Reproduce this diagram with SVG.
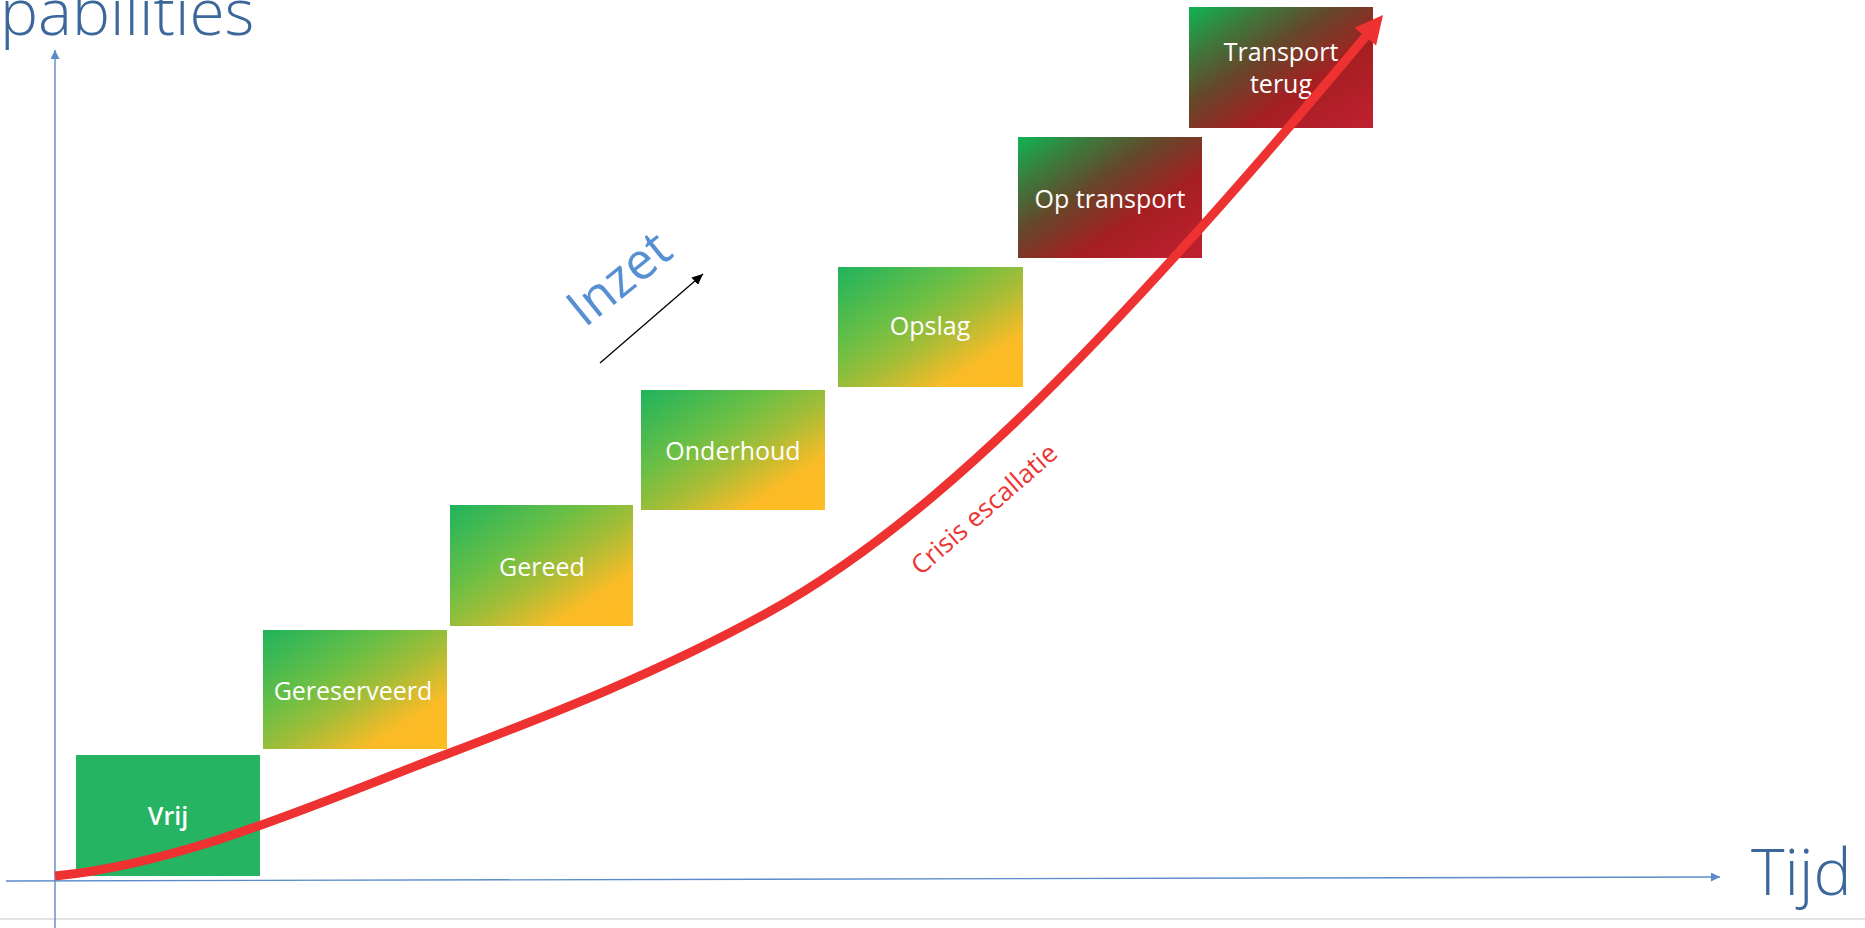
<svg xmlns="http://www.w3.org/2000/svg" width="1865" height="928" viewBox="0 0 1865 928">
<style>
.lbl{font-family:"Open Sans","Noto Sans","Liberation Sans",sans-serif;font-size:25px;fill:#FFFFFF;text-anchor:middle;font-weight:400}
.big{font-family:"Open Sans","Noto Sans","Liberation Sans",sans-serif;font-size:64px;fill:#3B679A;font-weight:300}
.axis{stroke:#5B8BC9;stroke-width:1.4;fill:none}
</style>
<defs>
<linearGradient id="gy" x1="0" y1="0" x2="1" y2="1">
<stop offset="0" stop-color="#1FB35D"/>
<stop offset="0.35" stop-color="#6ABF45"/>
<stop offset="0.55" stop-color="#A5BD37"/>
<stop offset="0.78" stop-color="#FBBB27"/>
<stop offset="1" stop-color="#FFBD22"/>
</linearGradient>
<linearGradient id="gr" x1="0" y1="0" x2="1" y2="1">
<stop offset="0" stop-color="#0FB454"/>
<stop offset="0.2" stop-color="#3C7A3C"/>
<stop offset="0.4" stop-color="#65472A"/>
<stop offset="0.65" stop-color="#A51F22"/>
<stop offset="1" stop-color="#C12030"/>
</linearGradient>
<marker id="ab" markerWidth="9" markerHeight="9" refX="9" refY="4.5" orient="auto" markerUnits="userSpaceOnUse">
<path d="M0,0 L9,4.5 L0,9 Z" fill="#5B8BC9"/>
</marker>
<marker id="ak" markerWidth="11" markerHeight="10" refX="11" refY="5" orient="auto" markerUnits="userSpaceOnUse">
<path d="M0,0 L11,5 L0,10 Z" fill="#000000"/>
</marker>
</defs>
<rect x="0" y="0" width="1865" height="928" fill="#FFFFFF"/>
<line x1="0" y1="919" x2="1865" y2="919" stroke="#D9D9D9" stroke-width="1.5"/>
<text class="big" x="0" y="35">pabilities</text>
<text class="big" x="1751" y="895">Tijd</text>

<g id="node-vrij">
<rect x="76" y="755" width="184" height="121" fill="#26B463"/>
<text class="lbl" x="168" y="825" style="font-weight:600">Vrij</text>
</g>
<g id="node-gereserveerd">
<rect x="263" y="630" width="184" height="119" fill="url(#gy)"/>
<text class="lbl" x="353" y="700">Gereserveerd</text>
</g>
<g id="node-gereed">
<rect x="450" y="505" width="183" height="121" fill="url(#gy)"/>
<text class="lbl" x="542" y="576">Gereed</text>
</g>
<g id="node-onderhoud">
<rect x="641" y="390" width="184" height="120" fill="url(#gy)"/>
<text class="lbl" x="733" y="460">Onderhoud</text>
</g>
<g id="node-opslag">
<rect x="838" y="267" width="185" height="120" fill="url(#gy)"/>
<text class="lbl" x="930" y="335">Opslag</text>
</g>
<g id="node-optransport">
<rect x="1018" y="137" width="184" height="121" fill="url(#gr)"/>
<text class="lbl" x="1110" y="208">Op transport</text>
</g>
<g id="node-transportterug">
<rect x="1189" y="7" width="184" height="121" fill="url(#gr)"/>
<text class="lbl" x="1281" y="61">Transport</text>
<text class="lbl" x="1281" y="93">terug</text>
</g>

<g id="connectors">
<line class="axis" x1="55" y1="928" x2="55" y2="50" marker-end="url(#ab)"/>
<line class="axis" x1="6" y1="881" x2="1720" y2="877" marker-end="url(#ab)"/>
<path d="M55,876 C185.7,862.9 316.3,803.7 447,754 C553.7,713.5 660.3,671.7 767,613 C878,552 989,453.6 1100,337 C1188.7,243.9 1277.3,142.4 1366,36" fill="none" stroke="#EE3131" stroke-width="9"/>
<polygon points="1383,15 1354.5,27.8 1376.1,45.6" fill="#EE3131"/>
<line x1="600" y1="363" x2="703" y2="274" stroke="#000000" stroke-width="1.3" marker-end="url(#ak)"/>
</g>
<text x="630" y="292" transform="rotate(-39 630 292)" text-anchor="middle" style="font-family:'Open Sans','Liberation Sans',sans-serif;font-size:51px;fill:#5690D2">Inzet</text>
<text x="990" y="516" transform="rotate(-41 990 516)" text-anchor="middle" style="font-family:'Open Sans','Liberation Sans',sans-serif;font-size:26px;fill:#EE3333">Crisis escallatie</text>
</svg>
